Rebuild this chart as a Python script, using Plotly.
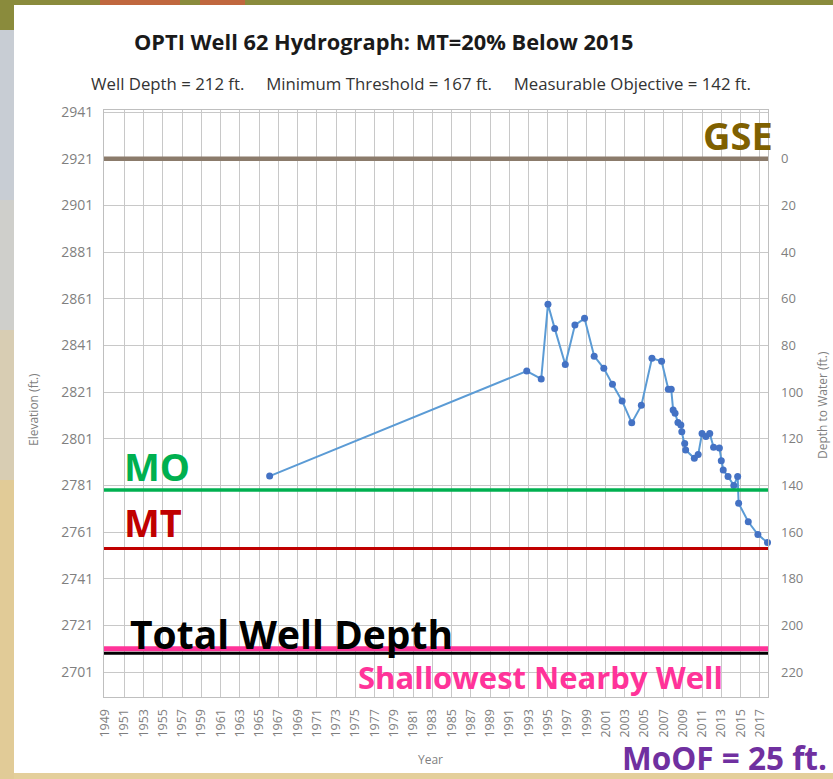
import plotly.graph_objects as go

# ---------------- data ----------------
years = [1966.1, 1992.8, 1994.3, 1995.0, 1995.7, 1996.8, 1997.8, 1998.8, 1999.8, 2000.8,
         2001.7, 2002.7, 2003.7, 2004.7, 2005.8, 2006.8, 2007.5, 2007.8, 2008.0, 2008.2,
         2008.5, 2008.8, 2008.9, 2009.2, 2009.3, 2010.2, 2010.6, 2011.0, 2011.4, 2011.8,
         2012.2, 2012.8, 2013.0, 2013.2, 2013.7, 2014.3, 2014.7, 2014.8, 2015.8, 2016.8, 2017.8]
elevation = [2785.0, 2830.0, 2826.6, 2858.6, 2848.3, 2832.8, 2849.7, 2852.6, 2836.4, 2831.2,
             2824.3, 2817.2, 2807.8, 2815.3, 2835.5, 2834.2, 2822.2, 2822.2, 2813.3, 2811.9,
             2808.0, 2806.9, 2804.0, 2799.0, 2796.2, 2792.6, 2794.2, 2803.2, 2802.0, 2803.2,
             2797.3, 2797.0, 2791.6, 2787.6, 2784.8, 2781.0, 2784.8, 2773.3, 2765.4, 2759.9, 2756.5]

x_tick_years = list(range(1949, 2018, 2))
x_tick_labels = [str(y) for y in x_tick_years]
elev_ticks = list(range(2701, 2942, 20))
depth_ticks = list(range(0, 221, 20))

gse = 2921              # ground surface elevation
mo_depth = 142          # measurable objective depth
mt_depth = 167          # minimum threshold depth
well_depth = 212        # total well depth
shallow_depth = 210     # shallowest nearby well (approx.)

# ---------------- geometry helpers ----------------
W, H = 833, 779
L, R, T, B = 104, 768, 110, 697


def fx(p):
    return (p - L) / (R - L)


def fy(p):
    return (B - p) / (B - T)


y_lo, y_hi = 2690.3, 2941.9
x_lo, x_hi = 1948.9, 2017.85

FONT = "Open Sans"
GRAY = "#7F7F7F"

fig = go.Figure()

fig.add_trace(go.Scatter(
    x=years, y=elevation, mode="lines+markers",
    line=dict(color="#5B9BD5", width=2),
    marker=dict(color="#4472C4", size=7),
    cliponaxis=False, showlegend=False, hoverinfo="x+y"))

# invisible trace to activate the right-hand depth axis
fig.add_trace(go.Scatter(
    x=[years[0]], y=[gse - elevation[0]], yaxis="y2", mode="markers",
    marker=dict(opacity=0), showlegend=False, hoverinfo="skip"))

shapes = []
# background strips (slide backdrop)
bands = [
    (0, 0, 14, 30, "#8A8B3C"),
    (0, 30, 14, 200, "#C8CDD4"),
    (0, 200, 14, 330, "#CFCFCB"),
    (0, 330, 14, 480, "#D8CDB3"),
    (0, 480, 14, 779, "#E1CB97"),
    (14, 0, 833, 5, "#8A8B3C"),
    (100, 0, 180, 5, "#C0673E"),
    (200, 0, 245, 5, "#C0673E"),
    (14, 773, 833, 779, "#E4CF9B"),
]
for x0, y0, x1, y1, c in bands:
    shapes.append(dict(type="rect", xref="paper", yref="paper",
                       x0=fx(x0), x1=fx(x1), y0=fy(y1), y1=fy(y0),
                       fillcolor=c, line=dict(width=0), layer="below"))

# reference lines
ref_lines = [
    (gse, "#8B7B6B", 4.5),
    (gse - mo_depth, "#00B050", 3.5),
    (gse - mt_depth, "#C00000", 3),
    (gse - shallow_depth, "#FF3399", 5),
    (gse - well_depth, "#000000", 3),
]
for yv, c, w in ref_lines:
    shapes.append(dict(type="line", xref="paper", yref="y", x0=0, x1=1,
                       y0=yv, y1=yv, line=dict(color=c, width=w)))

annotations = []


def txt(text, xp, yp, size, color, bold=True, xanchor="center", angle=0, family=FONT):
    annotations.append(dict(
        text=("<b>%s</b>" % text) if bold else text,
        xref="paper", yref="paper", x=fx(xp), y=fy(yp),
        xanchor=xanchor, yanchor="middle", showarrow=False, textangle=angle,
        font=dict(family=family, size=size, color=color)))


txt("OPTI Well 62 Hydrograph: MT=20% Below 2015", 383, 42, 21.8, "#1a1a1a")
txt("Well Depth = 212 ft.&nbsp;&nbsp;&nbsp;&nbsp;&nbsp;Minimum Threshold = 167 ft.&nbsp;&nbsp;&nbsp;&nbsp;&nbsp;Measurable Objective = 142 ft.",
    421, 84, 16.8, "#333333", bold=False)
txt("GSE", 738, 135, 38, "#7F6000")
txt("MO", 157, 466, 38, "#00B050")
txt("MT", 153, 522, 38, "#C00000")
txt("Total Well Depth", 128, 633, 39, "#000000", xanchor="left")
txt("Shallowest Nearby Well", 540, 677, 31, "#FF3399")
txt("MoOF = 25 ft.", 724, 757, 31.5, "#7030A0")
txt("Year", 430, 759, 12, GRAY, bold=False)
txt("Elevation (ft.)", 33, 410, 12, GRAY, bold=False, angle=-90)
txt("Depth to Water (ft.)", 822, 405, 12, GRAY, bold=False, angle=-90)

fig.update_layout(
    width=W, height=H,
    margin=dict(l=L, r=W - R, t=T, b=H - B, pad=0),
    paper_bgcolor="white", plot_bgcolor="white",
    font=dict(family=FONT, color=GRAY, size=12),
    shapes=shapes, annotations=annotations,
    xaxis=dict(range=[x_lo, x_hi], tickvals=x_tick_years, ticktext=x_tick_labels,
               tickangle=-90, tickfont=dict(size=12.5, color=GRAY),
               showgrid=True, gridcolor="#C8C8C8", gridwidth=1,
               showline=True, linecolor="#BFBFBF", mirror=True,
               zeroline=False, ticks="", ticklabelstandoff=6),
    yaxis=dict(range=[y_lo, y_hi], tickvals=elev_ticks,
               tickfont=dict(size=14, color=GRAY),
               showgrid=True, gridcolor="#C8C8C8", gridwidth=1,
               showline=True, linecolor="#BFBFBF", mirror=True,
               zeroline=False, ticks="", ticklabelstandoff=7),
    yaxis2=dict(overlaying="y", side="right",
                range=[gse - y_lo, gse - y_hi], tickvals=depth_ticks,
                tickfont=dict(size=13, color=GRAY),
                showgrid=False, zeroline=False, showline=False,
                ticks="", ticklabelstandoff=12),
    hovermode="closest",
)

fig.write_html("out.html", config={"displayModeBar": False},
               post_script="document.body.style.margin='0';")
